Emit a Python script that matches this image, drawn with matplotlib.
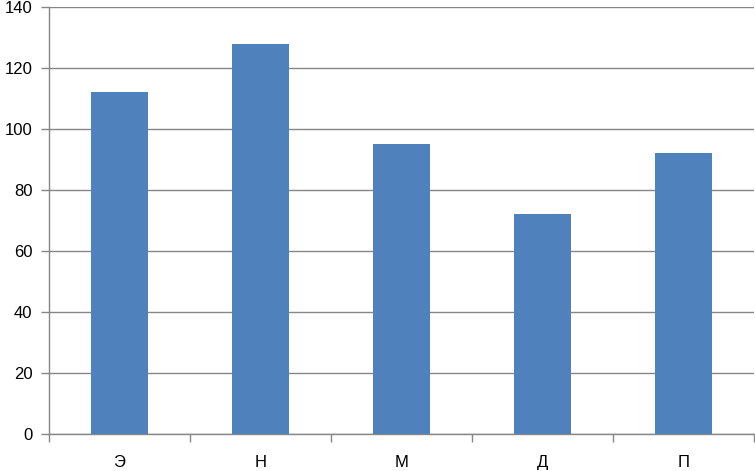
import matplotlib.pyplot as plt
import numpy as np

categories = ['Э', 'Н', 'М', 'Д', 'П']
values = [112, 128, 95, 72, 92]

plt.rcParams['font.family'] = ['Liberation Sans', 'DejaVu Sans']

fig = plt.figure(figsize=(7.55, 4.71), dpi=100)
ax = fig.add_axes([49 / 755, 37 / 471, 705 / 755, 427 / 471])

x = np.arange(len(categories))
ax.bar(x, values, width=0.4, color='#4F81BD', zorder=3)

ax.set_xlim(-0.5, len(categories) - 0.5)
ax.set_ylim(0, 140)
ax.set_yticks(np.arange(0, 141, 20))
ax.yaxis.grid(True, color='#868686', linewidth=1.0, zorder=0)

# category labels centered, tick marks at boundaries
ax.set_xticks(x)
ax.set_xticklabels(categories)
ax.set_xticks(np.arange(-0.5, len(categories)), minor=True)
ax.tick_params(axis='x', which='major', length=0, pad=15, labelsize=12)
ax.tick_params(axis='x', which='minor', length=6, color='#868686', width=1)
ax.tick_params(axis='y', length=6, color='#868686', width=1, labelsize=12, pad=6)

for s in ['top', 'right']:
    ax.spines[s].set_visible(False)
for s in ['left', 'bottom']:
    ax.spines[s].set_color('#868686')
    ax.spines[s].set_linewidth(1.0)

plt.savefig('out.png', dpi=100)
